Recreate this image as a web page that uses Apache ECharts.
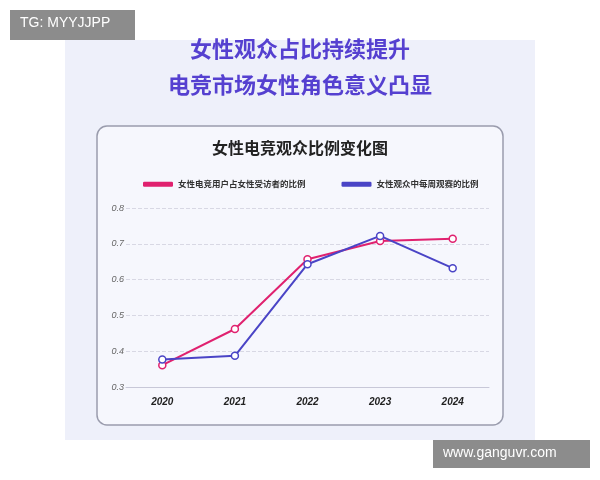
<!DOCTYPE html>
<html><head><meta charset="utf-8">
<script src="https://cdn.jsdelivr.net/npm/echarts@6/dist/echarts.min.js"></script>
<style>html,body{margin:0;padding:0;background:#fff}#c{width:600px;height:480px}</style>
</head><body><div id="c"></div>
<script>
const categories = ['2020','2021','2022','2023','2024'];
const seriesNames = ['女性电竞用户占女性受访者的比例','女性观众中每周观赛的比例'];
const pinkValues = [0.361,0.462,0.657,0.708,0.714];
const blueValues = [0.377,0.387,0.643,0.722,0.632];
const yTicks = [0.3,0.4,0.5,0.6,0.7,0.8];

const chart = echarts.init(document.getElementById('c'));
const F = '"Noto Sans CJK SC", "Noto Sans", sans-serif';
chart.setOption({
  animation:false,
  backgroundColor:'#fff',
  graphic:[
    {type:'rect',z:-10,shape:{x:65,y:40,width:470,height:400},style:{fill:'#eef0fa'}},
    {type:'rect',z:-9,shape:{x:97,y:126,width:406,height:299,r:10},style:{fill:'#f6f7fd',stroke:'#9a9cad',lineWidth:1.5}},
    {type:'text',left:'center',top:38,style:{text:'女性观众占比持续提升',font:'bold 22px '+F,fill:'#5540d0'}},
    {type:'text',left:'center',top:74,style:{text:'电竞市场女性角色意义凸显',font:'bold 22px '+F,fill:'#5540d0'}},
    {type:'text',left:'center',top:140,style:{text:'女性电竞观众比例变化图',font:'bold 16px '+F,fill:'#222'}},
    {type:'rect',shape:{x:10,y:10,width:125,height:30},style:{fill:'#8c8c8c'}},
    {type:'text',left:20,top:16,style:{text:'TG: MYYJJPP',font:'14px "Liberation Sans", sans-serif',fill:'#fff'}},
    {type:'rect',shape:{x:433,y:440,width:157,height:28},style:{fill:'#8c8c8c'}},
    {type:'text',left:443,top:446,style:{text:'www.ganguvr.com',font:'14px "Liberation Sans", sans-serif',fill:'#fff'}}
  ],
  legend:{top:175,left:138,itemWidth:30,itemHeight:5,itemGap:36,icon:'roundRect',
    itemStyle:{borderWidth:0},
    textStyle:{fontSize:8.5,fontFamily:F,color:'#333',fontWeight:'bold'},
    data:[{name:seriesNames[0],itemStyle:{color:'#e0216f'}},{name:seriesNames[1],itemStyle:{color:'#4a44c6'}}]},
  grid:{left:126,right:111,top:208,bottom:93},
  xAxis:{type:'category',data:categories,boundaryGap:true,
    axisLine:{lineStyle:{color:'#c8c8d8'}},axisTick:{show:false},
    axisLabel:{color:'#222',fontSize:10,fontWeight:'bold',fontStyle:'italic',margin:10}},
  yAxis:{type:'value',min:yTicks[0],max:yTicks[yTicks.length-1],interval:0.1,
    axisLabel:{color:'#666',fontSize:9,fontStyle:'italic',margin:2,formatter:v=>v.toFixed(1)},
    splitLine:{lineStyle:{type:'dashed',color:'#d8d8e4'}},axisLine:{show:false},axisTick:{show:false}},
  series:[
    {name:seriesNames[0],type:'line',data:pinkValues,color:'#e0216f',symbol:'circle',symbolSize:7,
      itemStyle:{color:'#fff',borderColor:'#e0216f',borderWidth:1.5},lineStyle:{width:2,color:'#e0216f'}},
    {name:seriesNames[1],type:'line',data:blueValues,color:'#4a44c6',symbol:'circle',symbolSize:7,
      itemStyle:{color:'#fff',borderColor:'#4a44c6',borderWidth:1.5},lineStyle:{width:2,color:'#4a44c6'}}
  ]
});
</script></body></html>
